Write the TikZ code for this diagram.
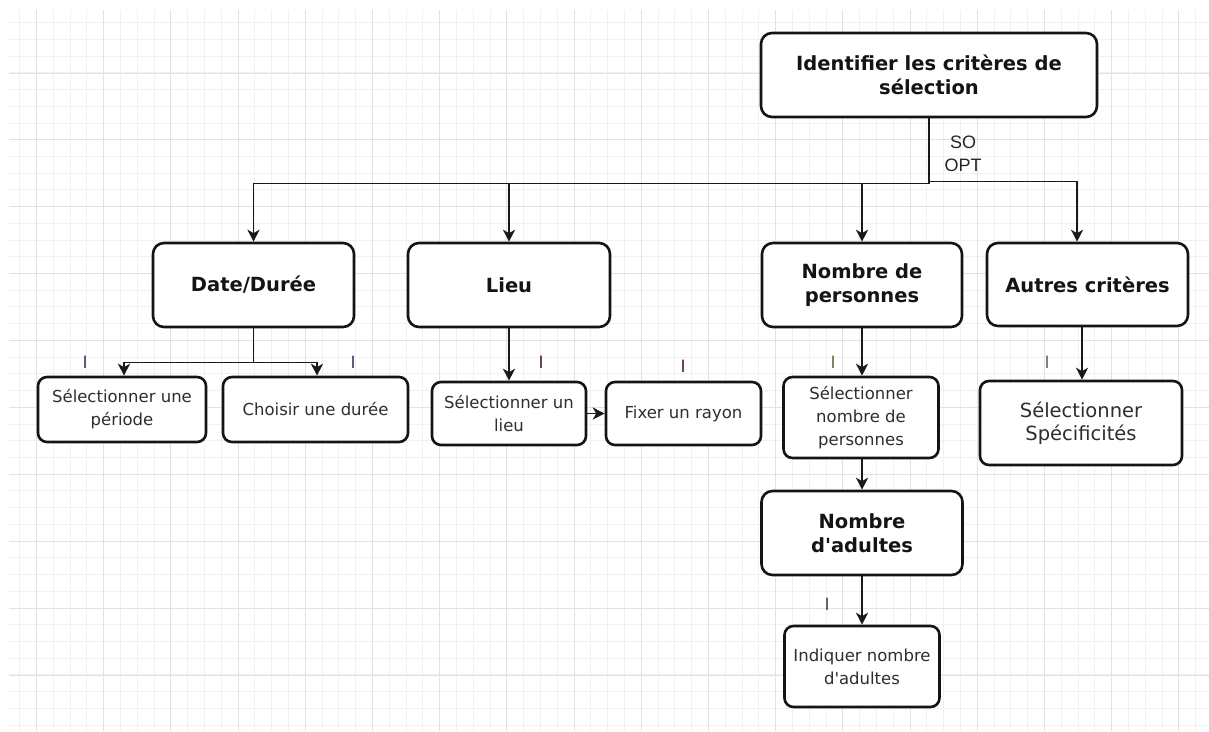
\documentclass[tikz,border=0pt]{standalone}
\usepackage{fontspec}
\setmainfont{DejaVu Sans}[Ligatures=TeXOff]
\newfontfamily\arialfont{Liberation Sans}
\usetikzlibrary{arrows.meta}
\definecolor{gridmajor}{HTML}{E2E2E2}
\definecolor{gridminor}{HTML}{F1F1F1}
\definecolor{lblpurple}{HTML}{4A3A70}
\definecolor{lblmaroon}{HTML}{5A2048}
\definecolor{lblolive}{HTML}{6E6E48}
\definecolor{lblgrey}{HTML}{6A6A6A}
\definecolor{lblgreen}{HTML}{3A5A40}
\tikzset{
  bigbox/.style={draw=black!92, line width=2.6pt, rounded corners=11pt, fill=white, align=center,
    font=\fontsize{19.5}{23.5}\selectfont\bfseries, text=black!92, inner sep=2pt},
  smallbox/.style={draw=black!92, line width=2.6pt, rounded corners=9pt, fill=white, align=center,
    font=\fontsize{16.5}{23}\selectfont, text=black!82, inner sep=2pt},
  conn/.style={line width=1.6pt, draw=black!90, -{Stealth[length=12pt,width=12pt,inset=3.5pt]}},
  lbl/.style={font=\arialfont\fontsize{18}{20}\selectfont, inner sep=0pt},
  minorline/.style={draw=gridminor, line width=0.9pt},
  majorline/.style={draw=gridmajor, line width=1pt}
}
\begin{document}
\begin{tikzpicture}[x=1pt,y=-1pt]
\useasboundingbox (0,0) rectangle (1209,731);
\fill[white] (0,0) rectangle (1209,731);
% grid
\foreach \i in {0,...,70} { \draw[minorline] ({19.7+\i*16.8},10) -- ({19.7+\i*16.8},731); }
\foreach \i in {0,...,42} { \draw[minorline] (9,{22.6+\i*16.725}) -- (1209,{22.6+\i*16.725}); }
\foreach \j in {0,...,17} { \draw[majorline] ({36.5+\j*67.2},10) -- ({36.5+\j*67.2},731); }
\foreach \j in {0,...,9} { \draw[majorline] (9,{73+\j*66.9}) -- (1209,{73+\j*66.9}); }

% nodes
\node[bigbox, minimum width=336pt, minimum height=84pt] (top) at (929,75) {Identifier les critères de\\sélection};
\node[bigbox, minimum width=201pt, minimum height=84pt] (date) at (253.5,285) {Date/Durée};
\node[bigbox, minimum width=202pt, minimum height=84pt] (lieu) at (509,285) {Lieu};
\node[bigbox, minimum width=200pt, minimum height=84pt] (nombre) at (862,285) {Nombre de\\personnes};
\node[bigbox, minimum width=201pt, minimum height=83pt] (autres) at (1087.5,284.5) {Autres critères};

\node[smallbox, minimum width=168pt, minimum height=65pt] (per) at (122,409.5) {Sélectionner une\\période};
\node[smallbox, minimum width=185pt, minimum height=65pt] (dur) at (315.5,409.5) {Choisir une durée};
\node[smallbox, minimum width=154pt, minimum height=63pt] (sellieu) at (509,413.5) {Sélectionner un\\lieu};
\node[smallbox, minimum width=155pt, minimum height=63pt] (rayon) at (683.5,413.5) {Fixer un rayon};
\node[smallbox, minimum width=155pt, minimum height=81pt] (selnb) at (861,417.5) {Sélectionner\\nombre de\\personnes};
\node[smallbox, minimum width=202pt, minimum height=84pt, font=\fontsize{19.5}{22.5}\selectfont] (spec) at (1081,423) {Sélectionner\\Spécificités};
\node[bigbox, minimum width=201pt, minimum height=84pt] (adultes) at (862,533) {Nombre\\d'adultes};
\node[smallbox, minimum width=155pt, minimum height=81pt] (indiq) at (862,666.5) {Indiquer nombre\\d'adultes};

% connectors
\draw[conn] (top.south) -- ++(0,65) -| (date.north);
\draw[conn] (top.south) -- ++(0,65) -| (lieu.north);
\draw[conn] (top.south) -- ++(0,65) -| (nombre.north);
\draw[conn] (top.south) -- ++(0,63) -| ([xshift=-10.5pt]autres.north);

\draw[conn] (date.south) -- ++(0,34) -| ([xshift=2pt]per.north);
\draw[conn] (date.south) -- ++(0,34) -| ([xshift=1.5pt]dur.north);

\draw[conn] (lieu.south) -- (sellieu.north);
\draw[conn] (sellieu.east) -- (rayon.west);

\draw[conn] (nombre.south) -- (nombre.south |- selnb.north);
\draw[conn] (selnb.south -| adultes.north) -- (adultes.north);
\draw[conn] (adultes.south) -- (indiq.north);
\draw[conn] ([xshift=-5.5pt]autres.south) -- ([xshift=-5.5pt]autres.south |- spec.north);

% labels
\node[lbl, align=center, text=black!85, font=\arialfont\fontsize{18}{23}\selectfont] (so) at (963,153.5) {SO\\OPT};
\node[lbl, text=lblpurple] (l1) at (85,362) {I};
\node[lbl, text=lblpurple] (l2) at (353,362) {I};
\node[lbl, text=lblmaroon] (l3) at (541,362) {I};
\node[lbl, text=lblmaroon] (l4) at (683,366) {I};
\node[lbl, text=lblolive] (l5) at (833,362) {I};
\node[lbl, text=lblgrey] (l6) at (1047,362) {I};
\node[lbl, text=lblgreen] (l7) at (827,604) {I};
\end{tikzpicture}
\end{document}
